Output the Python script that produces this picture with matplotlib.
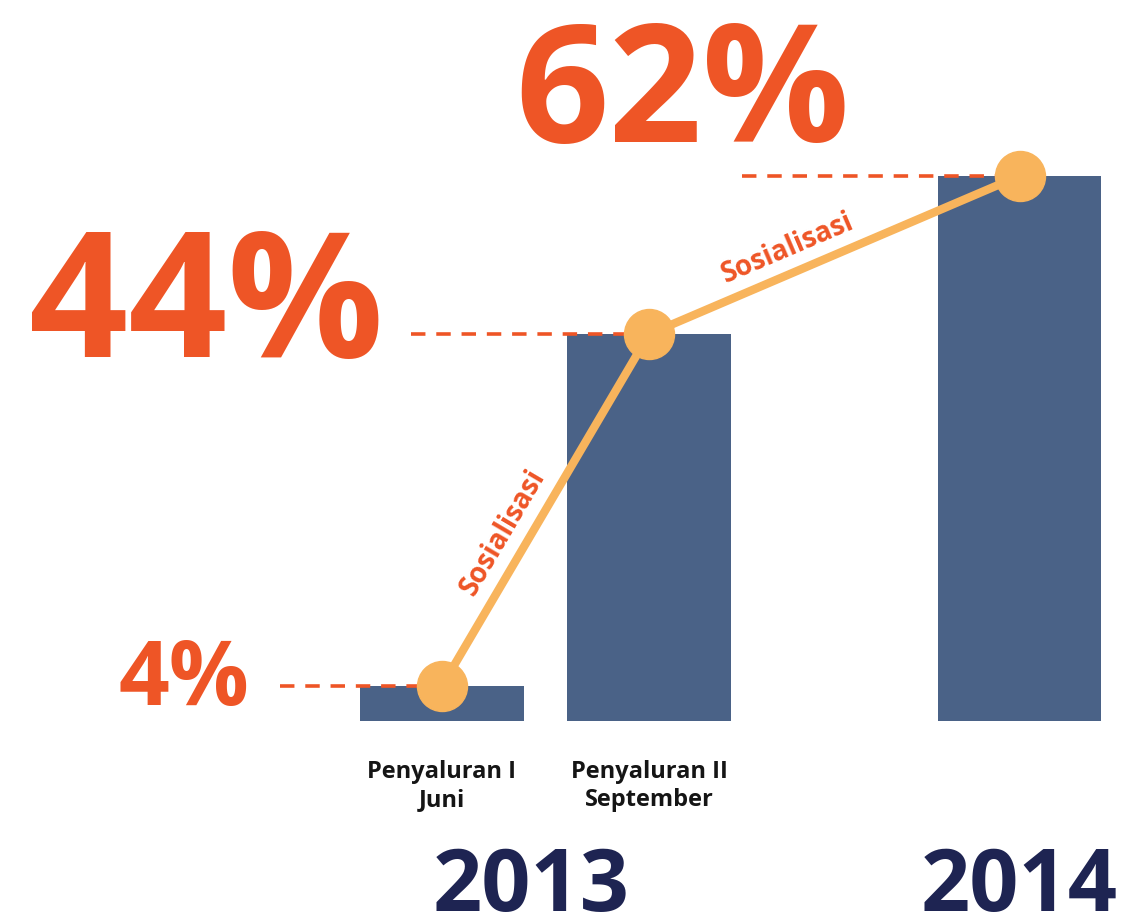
import numpy as np
import matplotlib.pyplot as plt

# data
categories = ["Penyaluran I\nJuni", "Penyaluran II\nSeptember", ""]
values = [4, 44, 62]
labels = ["4%", "44%", "62%"]
years = ["2013", "2014"]
step_label = "Sosialisasi"

# layout
xpos = np.array([0.0, 1.0, 2.79])
bar_w = 0.79
year_x = [0.43, 2.79]

bar_col = "#4A6287"
dot_col = "#F8B45C"
red = "#EE5526"
navy = "#1E2452"
font = ["Open Sans", "DejaVu Sans"]

fig = plt.figure(figsize=(11.28, 9.24), dpi=100)
ax = fig.add_axes([0, 0, 1, 1])
ax.set_xlim(-2.135, 3.314)
ax.set_ylim(-23.06, 82.0)
ax.axis("off")

ax.bar(xpos, values, width=bar_w, color=bar_col, zorder=1)

# dashed guides from the big labels to the points
dash_start = [-0.78, -0.15, 1.45]
for x0, x1, v in zip(dash_start, xpos, values):
    ax.plot([x0, x1], [v, v], color=red, lw=2.6, dashes=(4, 3), zorder=2)

ax.plot(xpos, values, color=dot_col, lw=6, zorder=3, solid_capstyle="round")
ax.plot(xpos, values, "o", ms=36, color=dot_col, zorder=4)

# percentage labels
ax.text(-0.93, values[0] - 2.2, labels[0], ha="right", va="baseline",
        fontsize=64, fontweight="bold", color=red, family=font)
ax.text(-0.28, values[1] - 2.6, labels[1], ha="right", va="baseline",
        fontsize=125, fontweight="bold", color=red, family=font)
ax.text(1.16, values[2] + 3.9, labels[2], ha="center", va="baseline",
        fontsize=118, fontweight="bold", color=red, family=font)

# step labels along each segment
for i in range(2):
    p0 = ax.transData.transform((xpos[i], values[i]))
    p1 = ax.transData.transform((xpos[i + 1], values[i + 1]))
    d = p1 - p0
    ang = np.degrees(np.arctan2(d[1], d[0]))
    n = np.array([-d[1], d[0]]) / np.hypot(*d)
    t = 0.40
    mx = xpos[i] + t * (xpos[i + 1] - xpos[i])
    my = values[i] + t * (values[i + 1] - values[i])
    ax.annotate(step_label, (mx, my), xytext=(n[0] * 18, n[1] * 18),
                textcoords="offset points", rotation=ang, rotation_mode="anchor",
                ha="center", va="center", fontsize=20, fontweight="bold",
                color=red, family=font, zorder=5)

# category labels under the bars
for x, c in zip(xpos, categories):
    ax.text(x, -4.4, c, ha="center", va="top", fontsize=17, fontweight="bold",
            color="#151515", family=font, linespacing=1.25)

for x, y in zip(year_x, years):
    ax.text(x, -21.6, y, ha="center", va="baseline", fontsize=62,
            fontweight="bold", color=navy, family=font)

fig.savefig("out.png", dpi=100)
